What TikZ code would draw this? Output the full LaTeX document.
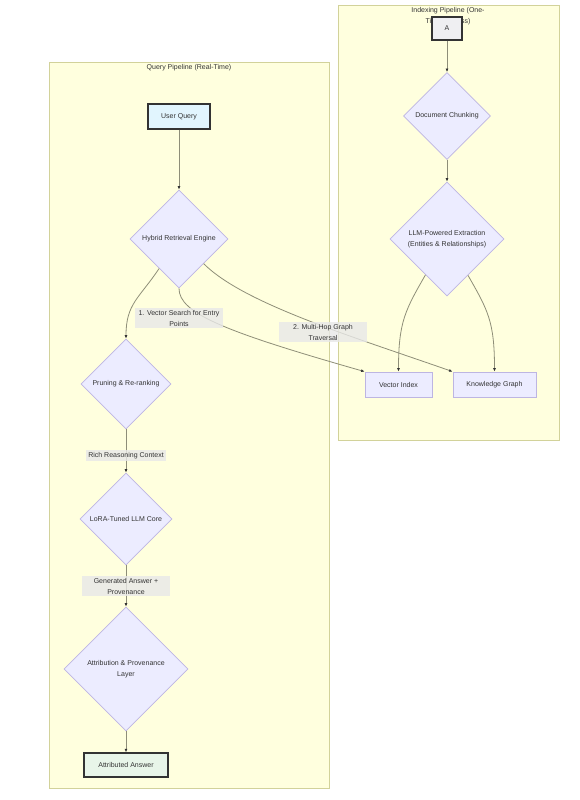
\documentclass[tikz,border=0pt]{standalone}
\usepackage{fontspec}
\setmainfont{Liberation Sans}
\usepackage{tikz}
\usetikzlibrary{
    arrows.meta,
    shapes.geometric,
    calc
}
\definecolor{clusterfill}{HTML}{FFFFDE}
\definecolor{clusterline}{HTML}{D2D29A}
\definecolor{nodefill}{HTML}{ECECFF}
\definecolor{nodeline}{HTML}{BDB5E2}
\definecolor{edgeline}{HTML}{8E8E78}
\definecolor{txt}{HTML}{333333}
\definecolor{lblfill}{HTML}{E8E8E8}
\definecolor{queryfill}{HTML}{E1F5FE}
\definecolor{answerfill}{HTML}{E8F5E9}
\definecolor{startfill}{HTML}{EFEFF2}

\begin{document}
\begin{tikzpicture}[>={Latex[length=3.5pt,width=3pt,color=txt]},x=1pt,y=-1pt,
    font=\fontsize{7}{11}\selectfont, text=txt,
    procbox/.style={rectangle, draw=nodeline, fill=nodefill, line width=0.8pt,
        minimum width=#1, minimum height=25pt, inner sep=0pt},
    keybox/.style={rectangle, draw=txt, line width=1.4pt, minimum height=25pt, inner sep=0pt},
    decision/.style={diamond, draw=nodeline, fill=nodefill, line width=0.8pt,
        aspect=1, inner sep=0pt, minimum size=#1, align=center},
    flow/.style={->, draw=edgeline, line width=0.8pt},
    lbl/.style={fill=lblfill, fill opacity=0.8, text opacity=1, inner xsep=2pt,
        inner ysep=2pt, align=center}
]
            \fill[white] (0,0) rectangle (580,800);
            \useasboundingbox (0,0) rectangle (580,800);

            % indexing pipeline
            \draw[clusterline, fill=clusterfill, line width=0.8pt] (338,5) rectangle (559,440);
            \node[align=center] (idxtitle) at (448,16) {Indexing Pipeline (One-\\Time Process)};

            \node[keybox, fill=startfill, minimum width=30pt, minimum height=23pt] (start) at (447,28.5) {A};
            \node[decision=87] (chunk) at (447,116) {Document Chunking};
            \node[decision=114] (extract) at (447,239) {LLM-Powered Extraction\\(Entities \& Relationships)};
            \node[procbox=67] (vector) at (398.5,384.5) {Vector Index};
            \node[procbox=83] (graph) at (494.5,384.5) {Knowledge Graph};

            % query pipeline
            \draw[clusterline, fill=clusterfill, line width=0.8pt] (49,62) rectangle (329,788);
            \node (qtitle) at (189,68) {Query Pipeline (Real-Time)};

            \node[keybox, fill=queryfill, minimum width=62pt] (query) at (179,116.5) {User Query};
            \node[decision=98] (hybrid) at (179,239) {Hybrid Retrieval Engine};
            \node[decision=90] (prune) at (126,384) {Pruning \& Re-ranking};
            \node[decision=92] (lora) at (126,519) {LoRA-Tuned LLM Core};
            \node[decision=124] (attrib) at (126,669) {Attribution \& Provenance\\Layer};
            \node[keybox, fill=answerfill, minimum width=84pt, minimum height=24pt] (answer) at (126,765) {Attributed Answer};

            \draw[flow] (start) -- (chunk);
            \draw[flow] (chunk) -- (extract);
            \draw[flow] (extract.239) .. controls +(-20,35) and +(0,-50) .. (vector.north);
            \draw[flow] (extract.300) .. controls +(20,35) and +(0,-50) .. (graph.north);

            \draw[flow] (query) -- (hybrid);
            \draw[flow] (hybrid.236) .. controls +(-20,30) and +(0,-35) .. (prune.north);
            \draw[flow] (hybrid.south) .. controls +(0,25) and +(-140,-40) .. (vector.north west);
            \draw[flow] (hybrid.south east) .. controls +(40,40) and +(-100,-35) .. (graph.north west);
            \draw[flow] (prune) -- node[lbl, pos=0.61] (ctxlbl) {Rich Reasoning Context} (lora);
            \draw[flow] (lora) -- node[lbl, minimum width=88pt] (genlbl) {Generated Answer +\\Provenance} (attrib);
            \draw[flow] (attrib) -- (answer);

            \node[lbl, minimum width=88pt] (veclbl) at (179,318) {1. Vector Search for Entry\\Points};
            \node[lbl, minimum width=88pt] (hoplbl) at (323,332) {2. Multi-Hop Graph\\Traversal};
        \end{tikzpicture}
\end{document}
